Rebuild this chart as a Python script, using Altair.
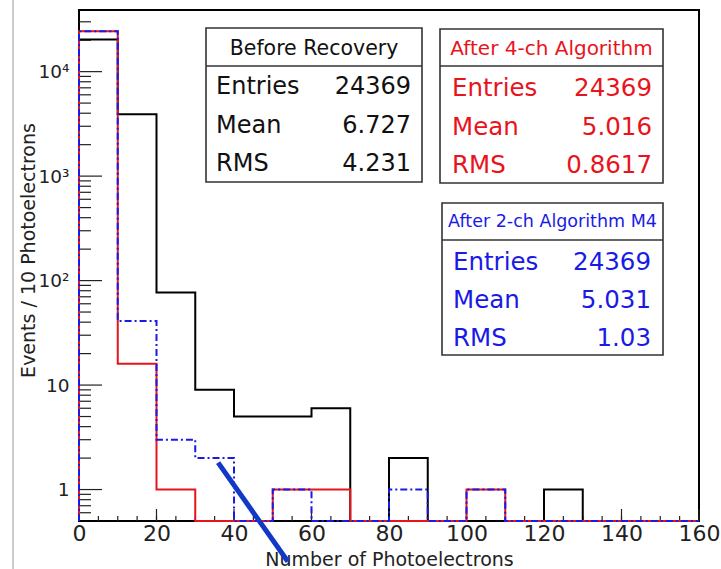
import altair as alt
import pandas as pd

# ---------------- data ----------------
bin_low = [0, 10, 20, 30, 40, 50, 60, 70, 80, 90, 100, 110, 120, 130, 140, 150]
x_end = 160
counts_before = [20344, 3920, 77, 9, 5, 5, 6, 0, 2, 0, 0, 0, 1, 0, 0, 0]
counts_4ch = [24349, 16, 1, 0, 0, 1, 1, 0, 0, 0, 1, 0, 0, 0, 0, 0]
counts_2ch = [24320, 41, 3, 2, 0, 1, 0, 0, 1, 0, 1, 0, 0, 0, 0, 0]

y_min = 0.5
y_max = 38900

box_titles = ["Before Recovery", "After 4-ch Algorithm", "After 2-ch Algorithm M4"]
stat_names = ["Entries", "Mean", "RMS"]
stat_before = ["24369", "6.727", "4.231"]
stat_4ch = ["24369", "5.016", "0.8617"]
stat_2ch = ["24369", "5.031", "1.03"]

x_major_ticks = [0, 20, 40, 60, 80, 100, 120, 140, 160]
x_minor_ticks = list(range(0, 161, 5))
y_major_ticks = [1, 10, 100, 1000, 10000]
y_minor_ticks = [0.6, 0.7, 0.8, 0.9, 2, 3, 4, 5, 6, 7, 8, 9,
                 20, 30, 40, 50, 60, 70, 80, 90,
                 200, 300, 400, 500, 600, 700, 800, 900,
                 2000, 3000, 4000, 5000, 6000, 7000, 8000, 9000,
                 20000, 30000]

# hand-drawn annotation stroke (data coordinates)
mark_x = [35.9, 53.9]
mark_y = [1.81, 0.205]

# ---------------- layout ----------------
LEFT, TOP = 79, 10
W, H = 620, 511
FONT = "DejaVu Sans"
RED = "#e8141c"
BLUE = "#1a1ae6"
INK = "#222222"


def px(v):
    return v - LEFT


def py(v):
    return v - TOP


xs = alt.Scale(domain=[0, x_end], nice=False, zero=False)
ys = alt.Scale(type="log", domain=[y_min, y_max], nice=False)


def step_frame(counts):
    rows = [{"i": 0, "x": bin_low[0], "n": 0}]
    for k, (lo, c) in enumerate(zip(bin_low, counts)):
        rows.append({"i": k + 1, "x": lo, "n": c})
    rows.append({"i": len(counts) + 1, "x": x_end, "n": counts[-1]})
    return pd.DataFrame(rows)


one = pd.DataFrame({"k": [0]})

label_expr = ("datum.value == 1 ? '1' : datum.value == 10 ? '10' : "
              "datum.value == 100 ? '10\u00b2' : datum.value == 1000 ? '10\u00b3' : '10\u2074'")

X_TITLE = "Number of Photoelectrons"
Y_TITLE = "Events / 10 Photoelectrons"

x_axis = alt.Axis(values=x_major_ticks, ticks=False, domain=False, grid=False,
                  labelFlush=False,
                  labelFont=FONT, labelFontSize=22, labelPadding=2, labelColor=INK,
                  title=X_TITLE, titleFont=FONT, titleFontSize=19,
                  titleFontWeight="normal", titleColor=INK, titleY=44,
                  titleBaseline="alphabetic")
y_axis = alt.Axis(values=y_major_ticks, ticks=False, domain=False, grid=False,
                  labelFlush=False,
                  labelExpr=label_expr, labelFont=FONT, labelFontSize=18.5,
                  labelPadding=10, labelColor=INK,
                  title=Y_TITLE, titleFont=FONT, titleFontSize=19,
                  titleFontWeight="normal", titleColor=INK, titleX=-45, titleY=240,
                  titleAngle=270, titleAlign="center", titleBaseline="alphabetic")

X_t = alt.X("t:Q", scale=xs, axis=x_axis, title=X_TITLE)
Y_t = alt.Y("t:Q", scale=ys, axis=y_axis, title=Y_TITLE)

layers = []

# page border line at left
layers.append(alt.Chart(one).mark_rule(color="#cccccc", strokeWidth=2).encode(
    x=alt.value(13 - LEFT), y=alt.value(-TOP), y2=alt.value(569 - TOP)))

# ticks (inside the frame)
layers.append(alt.Chart(pd.DataFrame({"t": x_minor_ticks})).mark_rule(color=INK, strokeWidth=1.2).encode(
    x=X_t, y=alt.value(H), y2=alt.value(H - 5)))
layers.append(alt.Chart(pd.DataFrame({"t": x_major_ticks})).mark_rule(color=INK, strokeWidth=1.2).encode(
    x=X_t, y=alt.value(H), y2=alt.value(H - 12)))
layers.append(alt.Chart(pd.DataFrame({"t": y_minor_ticks})).mark_rule(color=INK, strokeWidth=1.2).encode(
    y=Y_t, x=alt.value(0), x2=alt.value(12)))
layers.append(alt.Chart(pd.DataFrame({"t": y_major_ticks})).mark_rule(color=INK, strokeWidth=1.2).encode(
    y=Y_t, x=alt.value(0), x2=alt.value(23)))

# histograms
for counts, color, dash in [(counts_before, "#000000", None),
                            (counts_4ch, RED, None),
                            (counts_2ch, BLUE, [7, 3, 2, 3])]:
    kw = dict(color=color, strokeWidth=2, interpolate="step-after", clip=False)
    if dash:
        kw["strokeDash"] = dash
    layers.append(
        alt.Chart(step_frame(counts)).transform_calculate(
            yv=f"max(datum.n, {y_min})"
        ).mark_line(**kw).encode(
            x=alt.X("x:Q", scale=xs, axis=x_axis, title=X_TITLE),
            y=alt.Y("yv:Q", scale=ys, axis=y_axis, title=Y_TITLE),
            order="i:Q",
        )
    )


def stat_box(x0, x1, y0, y1, yline, title, title_fs, title_base, color,
             tl, tr, rows_base, row_fs, values):
    out = []
    out.append(alt.Chart(one).mark_rect(fill="white", stroke="#333333", strokeWidth=1.6).encode(
        x=alt.value(px(x0)), x2=alt.value(px(x1)), y=alt.value(py(y0)), y2=alt.value(py(y1))))
    out.append(alt.Chart(one).mark_rule(color="#333333", strokeWidth=1.6).encode(
        x=alt.value(px(x0)), x2=alt.value(px(x1)), y=alt.value(py(yline))))
    out.append(alt.Chart(one).mark_text(font=FONT, fontSize=title_fs, color=color,
                                        align="center", baseline="alphabetic").encode(
        x=alt.value(px((x0 + x1) / 2)), y=alt.value(py(title_base)), text=alt.value(title)))
    for name, val, b in zip(stat_names, values, rows_base):
        out.append(alt.Chart(one).mark_text(font=FONT, fontSize=row_fs, color=color,
                                            align="left", baseline="alphabetic").encode(
            x=alt.value(px(tl)), y=alt.value(py(b)), text=alt.value(name)))
        out.append(alt.Chart(one).mark_text(font=FONT, fontSize=row_fs, color=color,
                                            align="right", baseline="alphabetic").encode(
            x=alt.value(px(tr)), y=alt.value(py(b)), text=alt.value(val)))
    return out


layers += stat_box(206, 422, 28, 182, 66, box_titles[0], 20.5, 55, "#111111",
                   216, 411, [94, 133, 171], 24, stat_before)
layers += stat_box(440, 663, 29, 183, 66, box_titles[1], 20, 55, RED,
                   452, 652, [96, 135, 173], 24.5, stat_4ch)
layers += stat_box(442, 663, 203, 355, 240, box_titles[2], 17.5, 227, BLUE,
                   453, 651, [270, 308, 346], 24.5, stat_2ch)

# annotation stroke
layers.append(alt.Chart(pd.DataFrame({"t": mark_x, "v": mark_y})).mark_line(
    color="#1238c8", strokeWidth=5, clip=False, strokeCap="butt").encode(
    x=X_t, y=alt.Y("v:Q", scale=ys, axis=y_axis, title=Y_TITLE)))

chart = alt.layer(*layers).properties(
    width=W, height=H,
    autosize=alt.AutoSizeParams(type="none"),
    padding={"left": LEFT, "top": TOP, "right": 721 - LEFT - W, "bottom": 569 - TOP - H},
    background="white",
).configure_view(stroke="black", strokeWidth=2)

chart.save("out.html", embed_options={"renderer": "svg", "actions": False})
